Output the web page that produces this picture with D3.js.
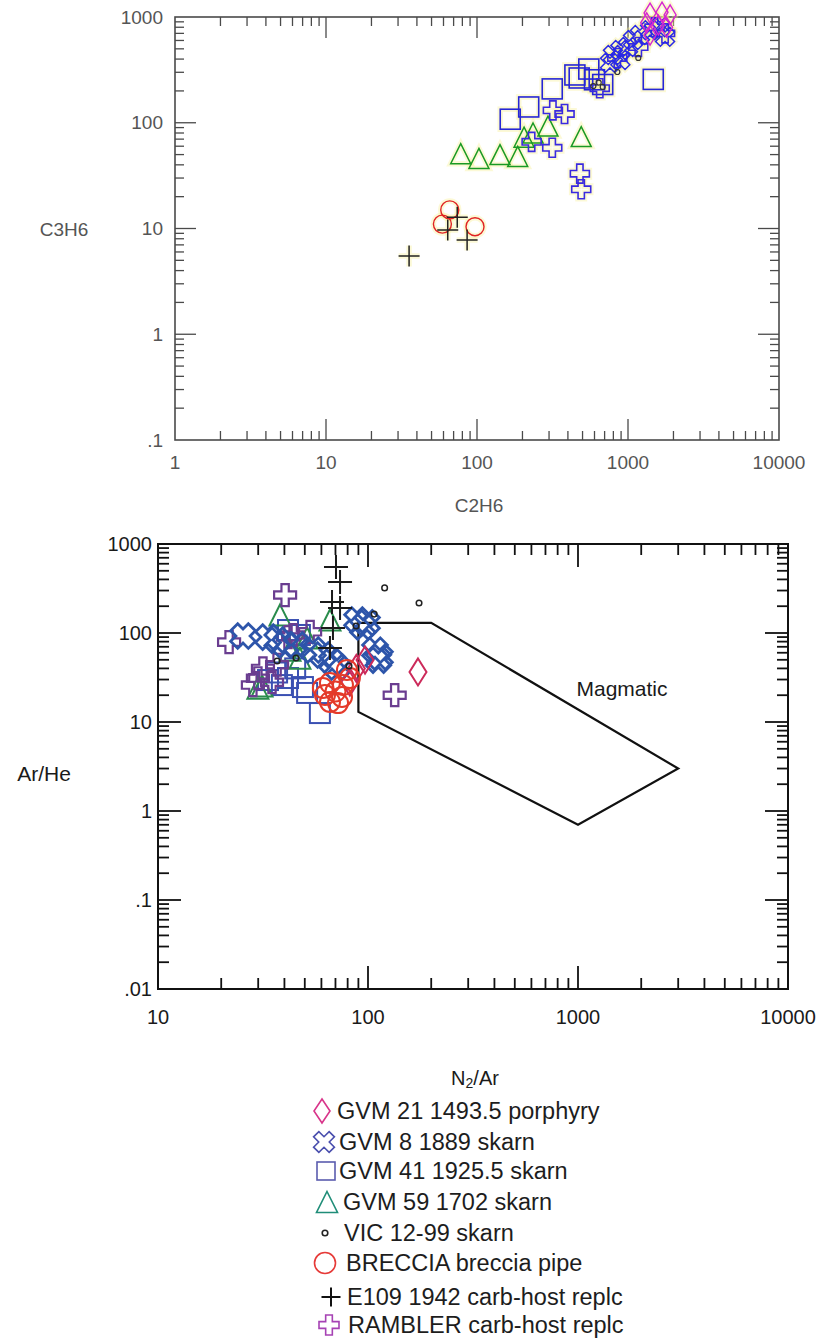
<!DOCTYPE html>
<html><head><meta charset="utf-8">
<script src="https://cdn.jsdelivr.net/npm/d3@7"></script>
<style>body{margin:0;background:#fff}svg{display:block}</style>
</head><body>
<svg id="c" width="820" height="1339"></svg>
<script>
// ---------- DATA ----------
// Top chart: C2H6 (x) vs C3H6 (y)
const topXTickLabels = ["1","10","100","1000","10000"];
const topYTickLabels = [".1","1","10","100","1000"];
const topGVM21   = [[1400,1090],[1680,1110],[1900,1045],[1330,880],[1590,840],[1800,800],[1400,675]];
const topGVM8    = [[795,437],[890,487],[1000,520],[1080,605],[1200,675],[1400,750],[1630,800],[760,367],[890,392],[1760,650]];
const topGVM41   = [[166,108],[220,141],[315,209],[445,283],[550,322],[475,265],[680,230],[1470,257],[600,255]];
const topGVM59   = [[78,51],[103,46],[142,50],[186,48],[205,73],[235,80],[295,93],[490,74]];
const topVIC     = [[590,222],[680,218],[850,302],[1170,410],[640,240]];
const topBRECCIA = [[66,15],[59,11],[97,10.4]];
const topE109    = [[35.5,5.5],[74,12.8],[64,9.7],[86,7.8]];
const topRAMBLER = [[318,131],[380,121],[230,66],[315,58],[480,33],[490,23.5],[650,212],[850,410],[1170,520],[1760,700],[1500,800]];

// Bottom chart: N2/Ar (x) vs Ar/He (y)
const botXTickLabels = ["10","100","1000","10000"];
const botYTickLabels = [".01",".1","1","10","100","1000"];
const botGVM21   = [[96.8,49.7],[173,36.5],[82,28.1],[88,40]];
const botGVM8    = [[25.4,92.5],[33.4,90],[40.3,73.3],[45.9,73.3],[54.7,64.4],[61,56.6],[67.4,47.2],[71.2,41.5],[88.7,140],[94.6,117],[114,53.7],[98.9,130],[108,64],[112,49.7],[37,83]];
const botGVM41   = [[41.6,108],[47.4,95],[33.4,29.6],[38.9,26],[41.6,31.2],[49,24.7],[59,12.6],[51.3,21.2],[36.9,36],[45,40]];
const botGVM59   = [[38.1,159],[65.9,140],[47.4,52],[29.9,24],[51.3,88],[42.5,64],[31.3,25.4]];
const botVIC     = [[120,321],[175,217],[107,163],[87.7,120],[81.2,42.6],[45.4,52.4],[36.9,48.5]];
const botBRECCIA = [[62.4,20.1],[65.9,16.8],[75.2,19.1],[82,31.2],[79.4,38.4],[61,24.1],[65.9,27.4],[72,16.3],[70,22],[76,26]];
const botE109    = [[70.4,552],[73.6,374],[67.4,223],[73.6,191],[68.1,114],[65.9,67.8]];
const botRAMBLER = [[40.3,267],[21.8,79],[31.6,40],[28.3,26],[36.9,44],[44,95],[53,103],[41.6,90],[134,20],[29.9,31],[34.9,28]];
// Magmatic field outline
const magmaticField = [[90,130],[200,130],[3000,3],[1000,0.7],[90,13]];

// Legend
const legendLabels = ["GVM 21 1493.5 porphyry","GVM 8 1889 skarn","GVM 41 1925.5 skarn","GVM 59 1702 skarn","VIC 12-99 skarn","BRECCIA breccia pipe","E109 1942 carb-host replc","RAMBLER carb-host replc"];
const legendShapes = ["diamond","x","square","triangle","dot","circle","plus","cross"];
const legendColors = ["#d8348a","#4a4fae","#5a5cae","#1f8d78","#222","#e63a38","#111","#a642b4"];

// ---------- DRAWING ----------
const svg = d3.select("#c");
const FONT = "'Liberation Sans', Arial, sans-serif";

function crossPts(L, a) {
  return [[-a,-L],[a,-L],[a,-a],[L,-a],[L,a],[a,a],[a,L],[-a,L],[-a,a],[-L,a],[-L,-a],[-a,-a]];
}
function marker(g, type, x, y, o) {
  const s = o.size, c = o.color, sw = o.sw;
  let el;
  if (type === "diamond") {
    const w = o.dw/2, h = o.dh/2;
    el = g.append("path").attr("d", `M${x},${y-h}L${x+w},${y}L${x},${y+h}L${x-w},${y}Z`);
  } else if (type === "x" || type === "cross") {
    const L = s/2, a = type === "x" ? s*(o.arm || 0.17) : s/6;
    let pts = crossPts(L, a);
    if (type === "x") {
      const r = Math.SQRT1_2;
      pts = pts.map(([px,py]) => [(px-py)*r, (px+py)*r]);
    }
    el = g.append("path").attr("d", "M" + pts.map(p => `${x+p[0]},${y+p[1]}`).join("L") + "Z");
  } else if (type === "square") {
    el = g.append("rect").attr("x", x-s/2).attr("y", y-s/2).attr("width", s).attr("height", s);
  } else if (type === "triangle") {
    el = g.append("path").attr("d", `M${x},${y-s/2}L${x+s/2},${y+s/2}L${x-s/2},${y+s/2}Z`);
  } else if (type === "dot") {
    el = g.append("circle").attr("cx", x).attr("cy", y).attr("r", o.r || 2.6);
  } else if (type === "circle") {
    el = g.append("circle").attr("cx", x).attr("cy", y).attr("r", s/2);
  } else if (type === "plus") {
    el = g.append("path").attr("d", `M${x-s/2},${y}H${x+s/2}M${x},${y-s/2}V${y+s/2}`);
  }
  el.attr("fill", "none").attr("stroke", c).attr("stroke-width", sw);
  if (o.halo) el.clone(true).lower().attr("stroke", "#f6ee8a").attr("stroke-width", sw+4).attr("opacity", 0.35);
  return el;
}

function logTicks(scale) {
  return scale.ticks().filter(v => v >= scale.domain()[0]*0.999 && v <= scale.domain()[1]*1.001);
}
function isMajor(v) { return Math.abs(Math.log10(v) - Math.round(Math.log10(v))) < 1e-6; }

function frameAndTicks(g, x, y, st) {
  const [x0, x1] = x.range(), [y0, y1] = y.range(); // y0 bottom, y1 top
  g.append("rect").attr("x", x0).attr("y", y1).attr("width", x1-x0).attr("height", y0-y1)
    .attr("fill", "none").attr("stroke", st.color).attr("stroke-width", st.sw);
  const tg = g.append("g").attr("stroke", st.color).attr("stroke-width", st.tsw);
  logTicks(x).forEach(v => {
    const px = x(v), len = isMajor(v) ? st.major : st.minor;
    if (v === x.domain()[0] || v === x.domain()[1]) return;
    tg.append("line").attr("x1", px).attr("x2", px).attr("y1", y0).attr("y2", y0-len);
    tg.append("line").attr("x1", px).attr("x2", px).attr("y1", y1).attr("y2", y1+len);
  });
  logTicks(y).forEach(v => {
    const py = y(v), len = isMajor(v) ? st.major : st.minor;
    if (v === y.domain()[0] || v === y.domain()[1]) return;
    tg.append("line").attr("y1", py).attr("y2", py).attr("x1", x0).attr("x2", x0+len);
    tg.append("line").attr("y1", py).attr("y2", py).attr("x1", x1).attr("x2", x1-len);
  });
}

// ===== TOP CHART =====
{
  const x = d3.scaleLog().domain([1,10000]).range([175,779]);
  const y = d3.scaleLog().domain([0.1,1000]).range([440,17]);
  const g = svg.append("g");
  frameAndTicks(g, x, y, {color:"#4a4a4a", sw:1.6, tsw:1.3, major:21, minor:9});
  const majX = x.ticks().filter(isMajor), majY = y.ticks().filter(isMajor);
  g.selectAll(".xl").data(majX).join("text").attr("x", d => x(d)).attr("y", 462)
    .attr("text-anchor","middle").attr("dominant-baseline","central")
    .style("font", `19px ${FONT}`).attr("fill","#555").text((d,i) => topXTickLabels[i]);
  g.selectAll(".yl").data(majY).join("text").attr("x", 163).attr("y", d => y(d))
    .attr("text-anchor","end").attr("dominant-baseline","central")
    .style("font", `19px ${FONT}`).attr("fill","#555").text((d,i) => topYTickLabels[i]);
  g.append("text").attr("x", 64).attr("y", 229).attr("text-anchor","middle").attr("dominant-baseline","central")
    .style("font", `19px ${FONT}`).attr("fill","#555").text("C3H6");
  g.append("text").attr("x", 479).attr("y", 505).attr("text-anchor","middle").attr("dominant-baseline","central")
    .style("font", `19px ${FONT}`).attr("fill","#555").text("C2H6");

  const m = g.append("g");
  const draw = (data, type, o) => data.forEach(d => marker(m, type, x(d[0]), y(d[1]), Object.assign({halo:true}, o)));
  draw(topGVM59, "triangle", {size:20, color:"#1a9a24", sw:1.5});
  draw(topGVM41, "square", {size:20, color:"#2626d6", sw:1.6});
  draw(topRAMBLER, "cross", {size:19, color:"#3a2ae0", sw:1.6});
  draw(topBRECCIA, "circle", {size:18, color:"#e02222", sw:1.4});
  draw(topE109, "plus", {size:21, color:"#222", sw:1.5});
  draw(topGVM8, "x", {size:20, color:"#2a2ae6", sw:1.5});
  draw(topGVM21, "diamond", {dw:12, dh:20, color:"#d626d0", sw:1.4});
  draw(topVIC, "dot", {r:2.5, color:"#333", sw:1.2});
}

// ===== BOTTOM CHART =====
{
  const x = d3.scaleLog().domain([10,10000]).range([158,788]);
  const y = d3.scaleLog().domain([0.01,1000]).range([989,544]);
  const g = svg.append("g");
  frameAndTicks(g, x, y, {color:"#111", sw:2, tsw:1.8, major:23, minor:11});
  const majX = x.ticks().filter(isMajor), majY = y.ticks().filter(isMajor);
  g.selectAll(".xl").data(majX).join("text").attr("x", d => x(d)).attr("y", 1017)
    .attr("text-anchor","middle").attr("dominant-baseline","central")
    .style("font", `20px ${FONT}`).attr("fill","#1a1a1a").text((d,i) => botXTickLabels[i]);
  g.selectAll(".yl").data(majY).join("text").attr("x", 152).attr("y", d => y(d))
    .attr("text-anchor","end").attr("dominant-baseline","central")
    .style("font", `20px ${FONT}`).attr("fill","#1a1a1a").text((d,i) => botYTickLabels[i]);
  g.append("text").attr("x", 44).attr("y", 773).attr("text-anchor","middle").attr("dominant-baseline","central")
    .style("font", `21px ${FONT}`).attr("fill","#1a1a1a").text("Ar/He");
  const t = g.append("text").attr("x", 475).attr("y", 1078).attr("text-anchor","middle").attr("dominant-baseline","central")
    .style("font", `20px ${FONT}`).attr("fill","#1a1a1a");
  t.append("tspan").text("N");
  t.append("tspan").attr("dy", 5).style("font-size","14px").text("2");
  t.append("tspan").attr("dy", -5).text("/Ar");

  // Magmatic field
  g.append("path").datum(magmaticField)
    .attr("d", d3.line().x(d => x(d[0])).y(d => y(d[1])).curve(d3.curveLinearClosed))
    .attr("fill","none").attr("stroke","#111").attr("stroke-width",2.2).attr("stroke-linejoin","miter");
  g.append("text").attr("x", 622).attr("y", 688).attr("text-anchor","middle").attr("dominant-baseline","central")
    .style("font", `21px ${FONT}`).attr("fill","#1a1a1a").text("Magmatic");

  const m = g.append("g");
  const draw = (data, type, o) => data.forEach(d => marker(m, type, x(d[0]), y(d[1]), o));
  draw(botGVM41, "square", {size:20, color:"#3a50b2", sw:2});
  draw(botGVM59, "triangle", {size:21, color:"#2a8c4c", sw:2});
  draw(botRAMBLER, "cross", {size:22, color:"#6a3d90", sw:2.2});
  draw(botGVM8, "x", {size:25, arm:0.2, color:"#2d55aa", sw:2.8});
  draw(botGVM21, "diamond", {dw:17, dh:27, color:"#cc2a5a", sw:2});
  draw(botBRECCIA, "circle", {size:20, color:"#e43a2a", sw:2});
  draw(botVIC, "dot", {r:2.8, color:"#222", sw:1.5});
  draw(botE109, "plus", {size:24, color:"#1a1a1a", sw:2});
}

// ===== LEGEND =====
{
  const g = svg.append("g");
  const ys = [1111,1142,1171,1202,1233,1263,1297,1325];
  const mx = [322,324,326,327,325,325,331,329];
  const tx = [337,339,339,343,344,346,347,348];
  legendLabels.forEach((lab, i) => {
    const o = {size:20, color:legendColors[i], sw:1.6, dw:16, dh:24, r:2.8};
    if (legendShapes[i] === "x") o.size = 22;
    if (legendShapes[i] === "square") o.size = 18;
    if (legendShapes[i] === "triangle") o.size = 21;
    if (legendShapes[i] === "circle") o.size = 21;
    if (legendShapes[i] === "plus") { o.size = 19; o.sw = 2; }
    marker(g, legendShapes[i], mx[i], ys[i], o);
    g.append("text").attr("x", tx[i]).attr("y", ys[i]).attr("dominant-baseline","central")
      .style("font", `23.5px ${FONT}`).attr("fill","#1d1d1d").text(lab);
  });
}
</script>
</body></html>
